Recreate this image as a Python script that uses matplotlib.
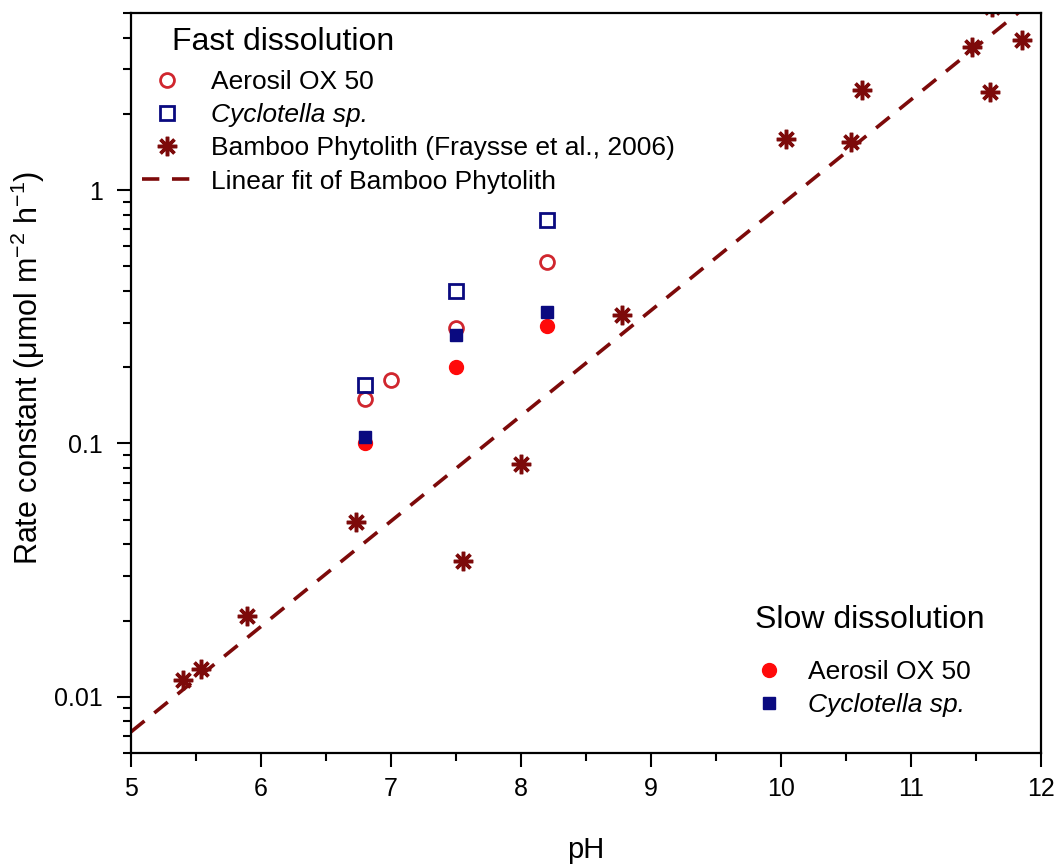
import numpy as np
import matplotlib
matplotlib.use('Agg')
import matplotlib.pyplot as plt
from matplotlib.ticker import FixedLocator, NullFormatter

plt.rcParams['font.family'] = ['Liberation Sans', 'DejaVu Sans']
plt.rcParams['mathtext.default'] = 'regular'

# Bamboo phytolith (Fraysse et al., 2006)
bamboo_ph = [5.40, 5.54, 5.89, 6.73, 7.55, 8.00, 8.78, 10.04, 10.54, 10.62, 11.47, 11.62, 11.61, 11.85]
bamboo_k = [0.0116, 0.0129, 0.0209, 0.049, 0.0344, 0.083, 0.321, 1.59, 1.55, 2.48, 3.66, 5.3, 2.44, 3.91]

# fast dissolution
fast_aer_ph = [6.8, 7.0, 7.5, 8.2]
fast_aer_k = [0.150, 0.178, 0.286, 0.52]
fast_cyc_ph = [6.8, 7.5, 8.2]
fast_cyc_k = [0.170, 0.400, 0.761]

# slow dissolution
slow_ph = [6.8, 7.5, 8.2]
slow_aer_k = [0.1005, 0.200, 0.291]
slow_cyc_k = [0.106, 0.268, 0.330]

RED_OPEN = '#d0262e'
RED = '#ff0a0a'
NAVY = '#0a0a80'
DARKRED = '#7d0a0a'

fig = plt.figure(figsize=(10.6, 8.67), dpi=100)
ax = fig.add_axes([131 / 1060, 1 - 753 / 867, 910 / 1060, 740 / 867])

h_fa, = ax.plot(fast_aer_ph, fast_aer_k, 'o', ls='none', ms=10, mfc='none', mec=RED_OPEN, mew=2,
                label='Aerosil OX 50')
h_fc, = ax.plot(fast_cyc_ph, fast_cyc_k, 's', ls='none', ms=9.5, mfc='none', mec=NAVY, mew=2,
                label='Cyclotella sp.')
h_b, = ax.plot(bamboo_ph, bamboo_k, marker=(8, 2, 0), ls='none', ms=14, mec=DARKRED, mew=2.5,
               label='Bamboo Phytolith (Fraysse et al., 2006)')

# linear fit of log10(k) vs pH
slope, intercept = np.polyfit(bamboo_ph, np.log10(bamboo_k), 1)
xf = np.linspace(5, 12, 50)
h_fit, = ax.plot(xf, 10 ** (slope * xf + intercept), color=DARKRED, lw=2.6, dashes=(4.8, 3.5),
                 label='Linear fit of Bamboo Phytolith')

h_sa, = ax.plot(slow_ph, slow_aer_k, 'o', ls='none', ms=10, color=RED, label='Aerosil OX 50')
h_sc, = ax.plot(slow_ph, slow_cyc_k, 's', ls='none', ms=9, color=NAVY, label='Cyclotella sp.')

ax.set_yscale('log')
ax.set_xlim(5, 12)
ax.set_ylim(0.006, 5)
ax.set_xticks(range(5, 13))
ax.xaxis.set_minor_locator(FixedLocator(np.arange(5.5, 12, 1.0)))
ax.set_yticks([0.01, 0.1, 1])
ax.set_yticklabels(['0.01', '0.1', '1'])
ax.yaxis.set_minor_formatter(NullFormatter())

ax.tick_params(which='both', direction='out', top=False, right=False, width=1.5, labelsize=18)
ax.tick_params(which='major', length=10)
ax.tick_params(which='minor', length=6)
ax.tick_params(axis='x', which='both', pad=7)
ax.tick_params(axis='y', which='both', pad=10)
for sp in ax.spines.values():
    sp.set_linewidth(1.6)

ax.set_xlabel('pH', fontsize=21)
ax.xaxis.set_label_coords(0.5, -0.112)
ax.set_ylabel('Rate constant (μmol m$^{-2}$ h$^{-1}$)', fontsize=22)
ax.yaxis.set_label_coords(-0.092, 0.52)

leg1 = ax.legend(handles=[h_fa, h_fc, h_b, h_fit], loc='upper left', bbox_to_anchor=(0.012, 0.923),
                 frameon=False, fontsize=19, borderpad=0, borderaxespad=0, handlelength=1.9,
                 handletextpad=0.7, labelspacing=0.35)
ax.add_artist(leg1)
leg2 = ax.legend(handles=[h_sa, h_sc], loc='upper left', bbox_to_anchor=(0.674, 0.126),
                 frameon=False, fontsize=19, borderpad=0, borderaxespad=0, handlelength=1.9,
                 handletextpad=0.5, labelspacing=0.35)
for leg in (leg1, leg2):
    for t in leg.get_texts():
        if t.get_text().startswith('Cyclotella'):
            t.set_fontstyle('italic')

ax.text(172 / 1060, 1 - 42 / 867, 'Fast dissolution', fontsize=23, va='center', ha='left',
        transform=fig.transFigure)
ax.text(755 / 1060, 1 - 620 / 867, 'Slow dissolution', fontsize=23, va='center', ha='left',
        transform=fig.transFigure)

fig.savefig('out.png', dpi=100)
